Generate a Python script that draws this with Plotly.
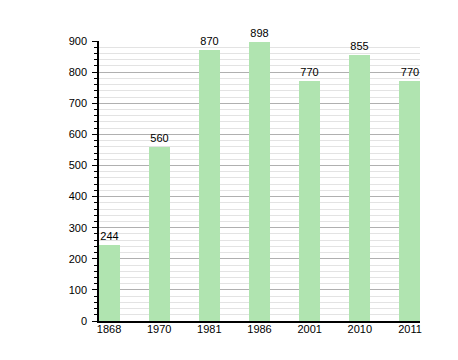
import plotly.graph_objects as go

years = ["1868", "1970", "1981", "1986", "2001", "2010", "2011"]
population = [244, 560, 870, 898, 770, 855, 770]

positions = list(range(len(years)))

fig = go.Figure()
fig.add_trace(go.Bar(
    x=positions, y=population,
    width=0.42,
    marker=dict(color="rgb(176,228,176)", line=dict(width=0)),
    text=[str(v) for v in population],
    textposition="outside",
    textfont=dict(family="Liberation Sans, Arial", size=11, color="black"),
    cliponaxis=False,
))

fig.update_layout(
    width=458, height=360,
    margin=dict(l=91, r=46, t=33, b=47),
    paper_bgcolor="white", plot_bgcolor="white",
    showlegend=False,
    font=dict(family="Liberation Sans, Arial", size=11, color="black"),
    bargap=0,
)
fig.update_xaxes(
    range=[-0.2, 6.2],
    tickmode="array", tickvals=positions, ticktext=years,
    showgrid=False, zeroline=False,
    showline=True, linecolor="black", linewidth=1.5,
    ticks="", tickfont=dict(size=11),
    ticklabelstandoff=-3,
)
fig.update_yaxes(
    range=[0, 900], dtick=100,
    showgrid=True, gridcolor="#b0b0b0", gridwidth=1,
    zeroline=False,
    showline=True, linecolor="black", linewidth=1.5,
    ticks="outside", ticklen=5, tickcolor="black", tickwidth=1,
    minor=dict(dtick=20, showgrid=True, gridcolor="#e3e3e3", gridwidth=1,
               ticks="outside", ticklen=3, tickcolor="black", tickwidth=1),
    tickfont=dict(size=11),
    ticklabelstandoff=3,
)

fig.write_html("out.html")
